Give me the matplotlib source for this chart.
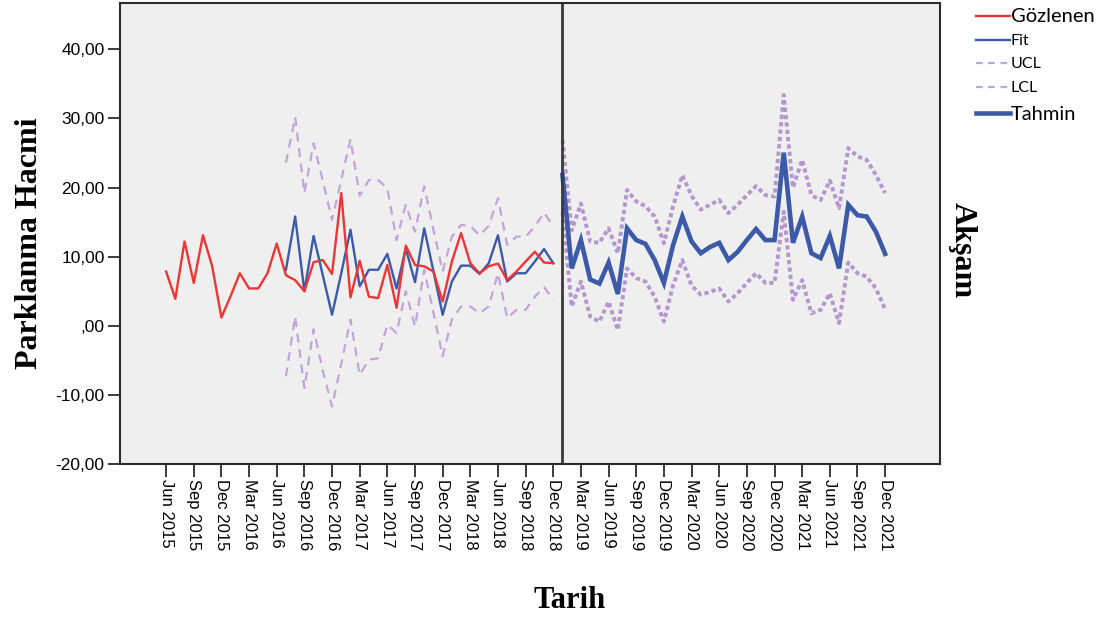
import matplotlib
matplotlib.use("Agg")
import matplotlib.pyplot as plt
import numpy as np
from matplotlib.lines import Line2D

# Monthly index: 0 = Jun 2015 ... 78 = Dec 2021
tick_labels = [
    "Jun 2015", "Sep 2015", "Dec 2015", "Mar 2016", "Jun 2016", "Sep 2016",
    "Dec 2016", "Mar 2017", "Jun 2017", "Sep 2017", "Dec 2017", "Mar 2018",
    "Jun 2018", "Sep 2018", "Dec 2018", "Mar 2019", "Jun 2019", "Sep 2019",
    "Dec 2019", "Mar 2020", "Jun 2020", "Sep 2020", "Dec 2020", "Mar 2021",
    "Jun 2021", "Sep 2021", "Dec 2021",
]

# Observed values, Jun 2015 - Dec 2018
observed = [
    7.85, 3.9, 12.2, 6.2, 13.1, 8.6, 1.2, 4.3, 7.6, 5.4, 5.4, 7.6, 11.9,
    7.3, 6.6, 5.0, 9.2, 9.5, 7.5, 19.2, 4.1, 9.4, 4.2, 4.0, 8.8, 2.6, 11.6,
    8.8, 8.6, 7.85, 3.5, 9.3, 13.4, 9.05, 7.6, 8.6, 9.0, 6.6, 7.85, 9.3,
    10.7, 9.15, 9.05,
]
obs_start = 0

# Model fit with confidence limits, Jul 2016 - Dec 2018
fit = [
    8.1, 15.8, 5.0, 13.0, 7.3, 1.6, 7.6, 13.9, 5.7, 8.1, 8.1, 10.4, 5.4,
    11.2, 6.3, 14.1, 7.9, 1.6, 6.4, 8.7, 8.7, 7.5, 9.05, 13.1, 6.4, 7.6,
    7.6, 9.3, 11.1, 9.05,
]
fit_ucl = [
    23.6, 30.2, 19.2, 26.4, 21.0, 15.3, 21.1, 27.0, 18.8, 21.1, 21.1, 19.9,
    12.4, 17.5, 13.6, 20.2, 13.9, 7.85, 12.9, 14.6, 14.45, 13.1, 14.45,
    18.45, 11.7, 12.9, 12.9, 14.35, 16.4, 14.35,
]
fit_lcl = [
    -7.3, 1.35, -9.0, -0.5, -6.5, -11.7, -5.5, 0.9, -7.1, -4.9, -4.7, 0.15,
    -1.05, 5.0, -0.1, 8.1, 1.9, -4.4, 0.9, 2.8, 2.8, 1.8, 2.8, 7.6, 1.1,
    2.3, 2.3, 4.2, 5.6, 3.75,
]
fit_start = 13

# Forecast with confidence limits, Jan 2019 - Dec 2021
forecast = [
    21.8, 8.3, 12.4, 6.7, 6.1, 9.15, 4.6, 14.1, 12.4, 11.85, 9.5, 6.2, 11.7,
    15.8, 12.2, 10.5, 11.4, 12.0, 9.5, 10.7, 12.4, 14.0, 12.4, 12.4, 25.05,
    12.0, 15.8, 10.5, 9.8, 13.0, 8.3, 17.5, 16.0, 15.8, 13.6, 10.4,
]
fc_ucl = [
    26.9, 13.8, 17.7, 12.2, 12.0, 14.1, 10.5, 19.65, 18.0, 17.3, 15.8, 11.95,
    17.3, 21.8, 18.8, 16.8, 17.5, 18.2, 16.3, 17.5, 18.9, 20.2, 18.9, 18.7,
    33.4, 20.0, 24.0, 18.9, 18.2, 21.0, 17.0, 25.7, 24.5, 24.0, 21.8, 19.2,
]
fc_lcl = [
    16.5, 2.8, 6.4, 1.35, 0.6, 3.5, -0.6, 8.3, 6.9, 6.4, 4.2, 0.6, 5.9, 9.5,
    5.8, 4.5, 4.9, 5.4, 3.5, 4.7, 6.2, 7.6, 6.2, 6.2, 16.5, 3.75, 6.6, 1.8,
    2.3, 4.7, 0.4, 9.15, 7.6, 7.1, 5.4, 2.4,
]
fc_start = 43

y_ticks = [-20, -10, 0, 10, 20, 30, 40]

RED = "#ee3535"
BLUE = "#3d5aa9"
LAV = "#c2a5d8"
LAV_DARK = "#b497cc"
SANS = ["Liberation Sans", "DejaVu Sans"]
SERIF = ["Liberation Serif", "DejaVu Serif"]


def comma_label(v):
    s = ("%.2f" % v).replace(".", ",")
    return s[1:] if v == 0 else s


W, H = 1110, 618
fig = plt.figure(figsize=(W / 100, H / 100), dpi=100)
fig.patch.set_facecolor("white")
ax = fig.add_axes([120 / W, 1 - 464 / H, (940 - 120) / W, (464 - 3) / H])
ax.set_facecolor("#efefef")

x_obs = np.arange(obs_start, obs_start + len(observed))
x_fit = np.arange(fit_start, fit_start + len(fit))
x_fc = np.arange(fc_start, fc_start + len(forecast))

dash_fit = (0, (4, 3))
dash_fc = (0, (1.1, 0.8))
ax.plot(x_fit, fit_ucl, color=LAV, lw=1.6, ls=dash_fit)
ax.plot(x_fit, fit_lcl, color=LAV, lw=1.6, ls=dash_fit)
ax.plot(x_fc, fc_ucl, color=LAV_DARK, lw=2.8, ls=dash_fc)
ax.plot(x_fc, fc_lcl, color=LAV_DARK, lw=2.8, ls=dash_fc)
ax.plot(x_fit, fit, color=BLUE, lw=1.7)
ax.plot(x_obs, observed, color=RED, lw=1.7)
ax.plot(x_fc, forecast, color=BLUE, lw=3.3, solid_joinstyle="miter")
ax.axvline(fc_start, color="#3a3a3a", lw=2)

ax.set_xlim(-5, 83.95)
ax.set_ylim(-20, 46.7)

ax.set_xticks(np.arange(0, 3 * len(tick_labels), 3))
ax.set_xticklabels(tick_labels, rotation=270, fontsize=12, family=SANS)
ax.set_yticks(y_ticks)
ax.set_yticklabels([comma_label(v) for v in y_ticks], fontsize=12.5,
                   family=SANS)
ax.tick_params(axis="x", length=9, width=1.3, pad=2, color="#2b2b2b")
ax.tick_params(axis="y", length=9, width=1.3, pad=2, color="#2b2b2b")
for sp in ax.spines.values():
    sp.set_color("#2b2b2b")
    sp.set_linewidth(1.5)

fig.text(30 / W, 1 - 243 / H, "Parklanma Hacmi", rotation=90, ha="center",
         va="center", fontsize=23, fontweight="bold", family=SERIF)
fig.text(570 / W, 1 - 600 / H, "Tarih", ha="center", va="center",
         fontsize=22, fontweight="bold", family=SERIF)
fig.text(962 / W, 1 - 250 / H, "Akşam", rotation=270, ha="center",
         va="center", fontsize=23, fontweight="bold", family=SERIF)

# Legend, drawn beside the panel
legend_rows = [
    ("Gözlenen", RED, 1.7, "-", 16, 14.5),
    ("Fit", BLUE, 1.7, "-", 40, 11.5),
    ("UCL", LAV, 1.6, (0, (3, 2.5)), 63, 11.5),
    ("LCL", LAV, 1.6, (0, (3, 2.5)), 87, 11.5),
    ("Tahmin", BLUE, 3.3, "-", 113, 14.5),
]
for label, col, lw, ls, yp, fs in legend_rows:
    fig.add_artist(Line2D([976 / W, 1010 / W], [1 - yp / H, 1 - yp / H],
                          transform=fig.transFigure, color=col, lw=lw, ls=ls))
    fig.text(1011 / W, 1 - (yp + 1) / H, label, ha="left", va="center",
             fontsize=fs, family=["Lato", "DejaVu Sans"])

fig.savefig("out.png", dpi=100)
